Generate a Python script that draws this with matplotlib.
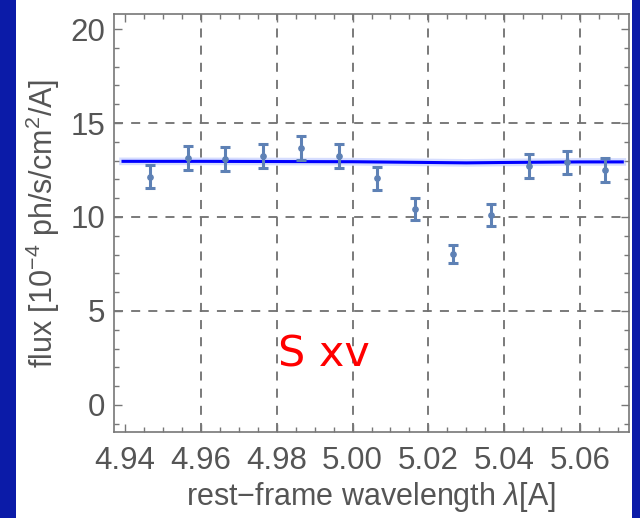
import matplotlib.pyplot as plt
from matplotlib.patches import Rectangle
from matplotlib.ticker import MultipleLocator

plt.rcParams['font.family'] = ['Liberation Sans', 'DejaVu Sans']
plt.rcParams['mathtext.fontset'] = 'custom'
plt.rcParams['mathtext.rm'] = 'Liberation Sans'
plt.rcParams['mathtext.it'] = 'Liberation Sans:italic'

# S XV band: measured flux with errors and the model continuum
wavelength = [4.9465, 4.9565, 4.9665, 4.9765, 4.9865, 4.9965, 5.0065,
              5.0165, 5.0265, 5.0365, 5.0465, 5.0565, 5.0665]
flux = [12.14, 13.12, 13.08, 13.24, 13.69, 13.24, 12.06,
        10.41, 8.03, 10.10, 12.71, 12.90, 12.50]
flux_err = [0.60, 0.64, 0.62, 0.64, 0.64, 0.64, 0.62,
            0.58, 0.50, 0.58, 0.65, 0.62, 0.65]

model_wl = [4.9395, 4.96, 4.98, 5.00, 5.02, 5.03, 5.04, 5.06, 5.0711]
model_flux = [12.96, 12.96, 12.95, 12.94, 12.90, 12.88, 12.90, 12.93, 12.93]

xgrid = [4.96, 4.98, 5.00, 5.02, 5.04, 5.06]
ygrid = [5, 10, 15]

fig = plt.figure(figsize=(6.4, 5.18), dpi=100)
fig.patch.set_facecolor('#0b1ba8')
fig.add_artist(Rectangle((16 / 640, 0), 616 / 640, 1, transform=fig.transFigure,
                         facecolor='white', edgecolor='none', zorder=-5))

ax = fig.add_axes([0.178, 0.166, 0.805, 0.807])
ax.set_zorder(1)
ax.set_facecolor('white')

for g in xgrid:
    ax.axvline(g, color='#707070', lw=1.3, ls=(0, (5, 4.5)), zorder=1)
for g in ygrid:
    ax.axhline(g, color='#707070', lw=1.3, ls=(0, (5, 4.5)), zorder=1)

ax.plot(model_wl, model_flux, color='#8aa0ff', lw=5.5, alpha=0.35, zorder=2)
ax.plot(model_wl, model_flux, color='#0000ff', lw=2.2, zorder=3)

ax.errorbar(wavelength, flux, yerr=flux_err, fmt='o', ms=3.8, color='#5e81b5',
            ecolor='#5e81b5', elinewidth=2.2, capsize=3.5, capthick=2.2, zorder=4)

ax.text(4.9803, 2.7, 'S xv', color='#ff0000', fontsize=31,
        family='DejaVu Sans', va='center', ha='left')

ax.set_xlim(4.9371, 5.0729)
ax.set_ylim(-1.44, 20.8)
ax.xaxis.set_major_locator(MultipleLocator(0.02))
ax.xaxis.set_minor_locator(MultipleLocator(0.005))
ax.yaxis.set_major_locator(MultipleLocator(5))
ax.yaxis.set_minor_locator(MultipleLocator(1))
ax.xaxis.set_major_formatter(lambda v, p: f'{v:.2f}')

ax.tick_params(which='both', direction='in', top=True, right=True,
               color='#777777', labelcolor='#555555', labelsize=22.5)
ax.tick_params(which='major', length=6, width=1)
ax.tick_params(which='minor', length=3.5, width=1)
ax.tick_params(axis='x', pad=10)
ax.tick_params(axis='y', pad=6)
for s in ax.spines.values():
    s.set_color('#777777')
    s.set_linewidth(1.2)

ax.set_xlabel('rest\u2212frame wavelength $\\mathit{\\lambda}$[A]', fontsize=22,
              color='#555555', va='center')
ax.set_ylabel('flux [10$^{-4}$ ph/s/cm$^2$/A]', fontsize=22,
              color='#555555', va='center')
ax.xaxis.set_label_coords(0.5, -0.155)
ax.yaxis.set_label_coords(-0.138, 0.5)

fig.savefig('out.png', dpi=100, facecolor=fig.get_facecolor())
